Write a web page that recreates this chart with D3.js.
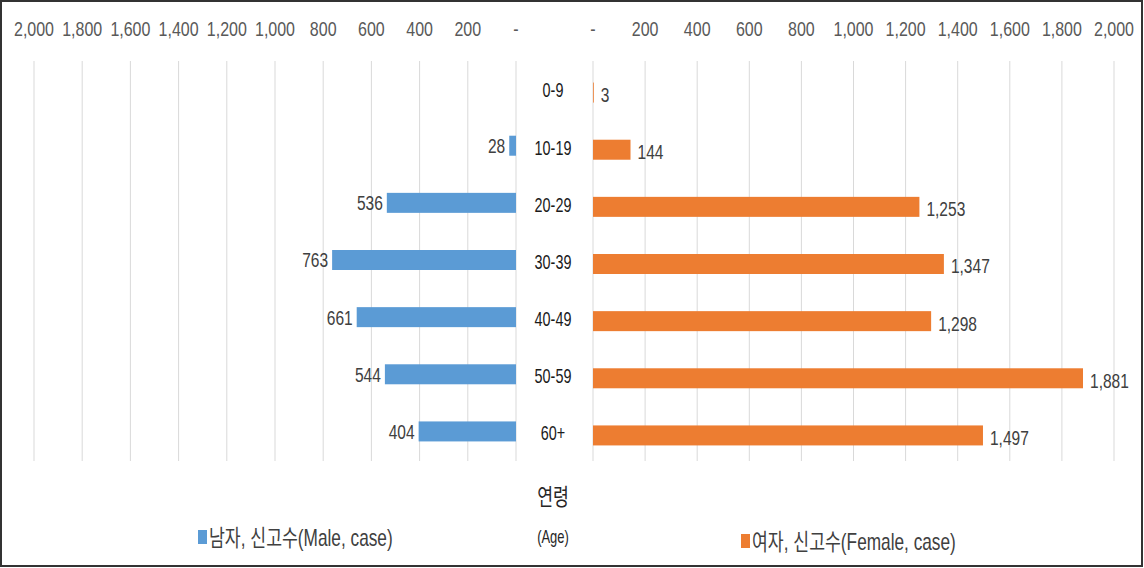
<!DOCTYPE html>
<html>
<head>
<meta charset="utf-8">
<script src="https://cdn.jsdelivr.net/npm/d3@7"></script>
<style>
  html, body { margin: 0; padding: 0; background: #fff; }
  svg { display: block; }
</style>
</head>
<body>
<svg id="chart" width="1144" height="568"></svg>
<script>
const ages = ['0-9', '10-19', '20-29', '30-39', '40-49', '50-59', '60+'];
const male = [0, 28, 536, 763, 661, 544, 404];
const female = [3, 144, 1253, 1347, 1298, 1881, 1497];
const tickValues = [0, 200, 400, 600, 800, 1000, 1200, 1400, 1600, 1800, 2000];
const maleLegend = '남자, 신고수(Male, case)';
const femaleLegend = '여자, 신고수(Female, case)';
const axisTitle = ['연령', '(Age)'];

const maleColor = '#5b9bd5';
const femaleColor = '#ed7d31';
const font = '"Liberation Sans", "Noto Sans CJK KR", sans-serif';

const svg = d3.select('#chart');

const xL = d3.scaleLinear().domain([0, 2000]).range([516, 34]);
const xR = d3.scaleLinear().domain([0, 2000]).range([593, 1114]);
const y = d3.scaleBand().domain(ages).range([60, 460]);
const barH = 20;
const fmt = v => (v === 0 ? '-' : d3.format(',')(v));

// squeezed text, the original is narrow like Calibri
function txt(sel, x, yy, s, anchor, size, color, sx) {
  return sel.append('text')
    .attr('transform', `translate(${x},${yy}) scale(${sx},1)`)
    .attr('text-anchor', anchor)
    .attr('dominant-baseline', 'central')
    .style('font-family', font)
    .style('font-size', size + 'px')
    .style('fill', color)
    .text(s);
}

// grid
const grid = svg.append('g');
[xL, xR].forEach(sc => {
  grid.selectAll(null).data(tickValues).join('line')
    .attr('x1', d => sc(d)).attr('x2', d => sc(d))
    .attr('y1', 61).attr('y2', 461)
    .attr('stroke', '#d9d9d9').attr('stroke-width', 1);
});

// tick labels along the top
const ticks = svg.append('g');
[xL, xR].forEach(sc => {
  tickValues.forEach(v => txt(ticks, sc(v), 29, fmt(v), 'middle', 20, '#595959', 0.8));
});

// male bars
svg.append('g').selectAll('rect').data(ages).join('rect')
  .attr('x', (d, i) => xL(male[i]))
  .attr('width', (d, i) => xL(0) - xL(male[i]))
  .attr('y', d => y(d) + y.bandwidth() / 2 - barH / 2)
  .attr('height', barH)
  .attr('fill', maleColor);

// female bars
svg.append('g').selectAll('rect').data(ages).join('rect')
  .attr('x', xR(0))
  .attr('width', (d, i) => xR(female[i]) - xR(0))
  .attr('y', d => y(d) + y.bandwidth() / 2 - barH / 2 + 4)
  .attr('height', barH)
  .attr('fill', femaleColor);

// labels
const labels = svg.append('g');
ages.forEach((a, i) => {
  const cy = y(a) + y.bandwidth() / 2;
  if (male[i] > 0) txt(labels, xL(male[i]) - 4, cy, fmt(male[i]), 'end', 21, '#404040', 0.74);
  txt(labels, xR(female[i]) + 7, cy + 6, fmt(female[i]), 'start', 21, '#404040', 0.74);
  txt(labels, 553, cy + 2, a, 'middle', 20, '#1a1a1a', 0.72);
});

// axis title and legend
txt(svg, 553, 497, axisTitle[0], 'middle', 23, '#262626', 0.75);
txt(svg, 553, 537, axisTitle[1], 'middle', 18, '#262626', 0.72);

svg.append('rect').attr('x', 198).attr('y', 530).attr('width', 9).attr('height', 14).attr('fill', maleColor);
txt(svg, 209, 538, maleLegend, 'start', 23, '#404040', 0.75);
svg.append('rect').attr('x', 741).attr('y', 534).attr('width', 9).attr('height', 14).attr('fill', femaleColor);
txt(svg, 752, 542, femaleLegend, 'start', 23, '#404040', 0.75);

// outer border
svg.append('rect').attr('x', 1).attr('y', 1).attr('width', 1141).attr('height', 565)
  .attr('fill', 'none').attr('stroke', '#333').attr('stroke-width', 2);
</script>
</body>
</html>
